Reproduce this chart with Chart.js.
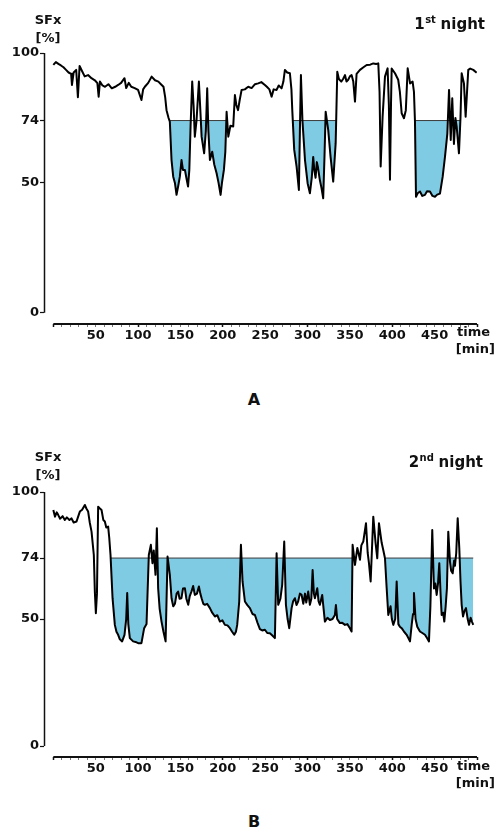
<!DOCTYPE html>
<html><head><meta charset="utf-8">
<script src="https://cdn.jsdelivr.net/npm/chart.js@4.4.0/dist/chart.umd.min.js"></script>
<style>
html,body{margin:0;padding:0;background:#fff;width:500px;height:833px;overflow:hidden;font-family:"DejaVu Sans",sans-serif;}
.wrap{position:absolute;left:0;width:500px;height:370px;}
#wa{top:0px} #wb{top:438px}
.lab{position:absolute;width:500px;text-align:center;font:bold 16px "DejaVu Sans";color:#111;line-height:19px}
</style></head><body>
<div class="wrap" id="wa"><canvas id="ca" width="500" height="370"></canvas></div>
<div class="wrap" id="wb"><canvas id="cb" width="500" height="370"></canvas></div>
<div class="lab" style="top:390px;left:4px">A</div>
<div class="lab" style="top:812px;left:4px">B</div>
<script>
const yTicks = [0, 50, 74, 100];
const xTickLabels = [50, 100, 150, 200, 250, 300, 350, 400, 450];
const threshold = 74;

// 1st night
const timeA = [0,3,6,9,12,15,18,21,22,24,27,29,31,34,37,41,45,49,52,53.5,55,58,61,65,69,73,76.5,80,84,86,89,92,96,100,104,106,108,112,116,120,124,127,130,132,133.6,136,137.5,139.5,141.5,143.5,145.4,147.5,149.3,151.3,153,155.3,157,159,160.5,162,163.9,165.5,167,169,171.8,173.5,175,178,180,181.6,183,184.8,187.5,190,192.7,195,197.4,199,201.3,203,204.5,206.5,209,212.3,214.3,216,218,220,222.2,226,230,234,238,241.8,245.5,249.7,252,255,257.6,260,263.5,266,269.4,271.5,273.3,276,279.2,281,282,284.3,287.1,289.8,291,292.2,294,297,300.1,302.8,305,306.7,308,309.5,311,312.3,314.6,316.5,318.5,320,321.4,324.4,327.2,330.3,333.2,335.1,337,339.8,342,344.2,346,348,350,352,354,356,357.9,361.9,366,369.8,374,377.6,381,383.5,385,386.3,388.6,391.4,394.5,396,397.3,398.5,399.3,403.2,407,409,411.1,413.8,416,418.2,421,424,425.6,426.8,428,430,432.7,435.5,438.6,441,444.5,447.5,450.4,453,456.3,459.5,462.2,465,467,469,470.8,472.8,474.5,476,478.7,480.5,481.9,484.6,486.6,489.7,492,495.6,499.6];
const sfxA = [95.4,96.5,95.8,95.2,94.5,93.5,92.5,92,87.7,92.5,93.5,83,95,93,91,91.5,90.3,89.5,88.4,83.2,89,87.5,87,88,86.4,87,87.7,88.5,90.3,86.5,88.5,87,86.5,85.8,81.9,86,87,88.5,90.9,89.5,89,88,87,83,78,75,73.6,58.8,52.4,50,45.4,49,52.4,58.8,55,55,52,48.6,55,72,89,80,67.8,74,89,78,67.8,61.4,70,86.4,70,58.8,62,57,53.7,50,45.4,50,55,62,77.4,67.8,72,71.7,83.8,80,78,82,85.8,86,87,86.5,88,88.3,88.8,87.7,87,86,83.2,86,85.8,87.5,86.4,89,93.5,92.5,92.2,86,78,62.7,56.3,47.3,70,91.5,74,58.8,49.9,46,52,60,55,52,58,56,51,48,44.1,60,77.4,70.4,60,50.5,65.3,92.8,90,89,90,91.5,89,89.7,91,91.5,89,81.3,92,93.5,94.5,95.4,95.5,96,95.8,96,85,56.3,75.5,90.9,94.1,80,51.2,80,94,92.2,89.7,85,76.8,74.9,78,94.1,88.3,89,85,73.6,44.7,46,46.7,45,45.4,46.8,46.7,45,44.7,45.5,45.9,52.4,60,69,85.8,66.5,82.6,65,75,71.7,61.4,75,92.2,88.3,75.5,93.5,94,93.5,92.4];
const episodesA = [[137.8, 204.5], [282.5, 333.5], [426.5, 480]];

// 2nd night
const timeB = [0,2,4,5.7,8,11,13.6,16,19,21.5,24,27.4,29,31.3,34,37.2,39,41.1,43,45.1,47.8,49,50.2,51.5,52.9,55,56.9,59,60.8,62.5,64.7,66,67.5,69.9,72.6,74.5,76.5,78.5,81.2,84,86,87.2,88.5,90.3,94.2,97,100.1,104,107.2,110,112.7,115.1,117,118.5,120.6,122.2,123.7,125.5,127.7,130,132.5,134.8,137.5,139.5,141.5,143.5,145.5,147.3,149,151.2,153,155.3,157,159.2,161,163,165,167,169.5,171.8,173.5,175,177,178.9,181.5,184.8,187.5,190.7,193.5,196.6,199.5,202.5,205.5,208.4,211,213.5,215.5,217,219.4,221.4,223.3,226.1,229,232,235,237.9,241,243.8,246.5,249.7,252.5,255.6,258.5,261.5,263.5,265.4,268,270.1,272.5,274.5,276.5,278.4,281.2,283,285.1,287,289,291,293,295,297,298.5,300.8,302.8,304.5,306,307.5,308.7,311.5,313,314.6,317.3,320.5,323.5,326.4,329.5,332.3,333.5,335,338.2,341,344.2,347,350,352,353.2,356,358.8,361.9,363.5,365.8,369,371,372.5,374.5,377.6,380.3,382.3,384.3,387.5,389.5,391.4,393.4,395.3,398,399.5,401.2,403.5,405.2,407.2,409,411.1,414,417,419,420.9,423,424.5,425.6,427.5,429.5,432.7,435.5,438.6,441,443.3,445,447.2,449.2,450.8,452.4,454,455.5,457,458.3,460,461.4,463,464.5,466.1,468.1,469.5,471.3,473,474,475.5,477.2,479.1,480.5,481.9,483.5,485,487,489,490.6,492.5,494,495.6];
const sfxB = [92.9,90.3,92,91,89.5,90.5,89,90,89,89.6,88,88.4,90,92.3,93,94.9,93.5,92.3,88,84.4,75.2,60.8,52.3,60,94.2,93.5,92.9,89,88.4,86,86.4,82,75.2,58.2,47.7,45,43.8,42,41.2,43.8,50,60.2,48,42.5,41.2,41,40.5,40.5,46.4,48,75.2,79.2,72,77,67.4,85.7,62.1,54,49,45,41.2,74.6,67.4,58.2,55,56,60,60.8,58,58.2,62,62.1,58,55.6,59,60.8,63,59.5,60,62.8,60,58.2,56,55.6,56,54.3,52.5,51,51.5,49,49.5,47.7,47.5,46.4,45,43.8,45,47.7,56.9,79.2,64.8,56.9,55.5,54.3,52,51.6,48.5,46,45.5,45.8,44.5,44.4,43.5,42.5,75.9,55.6,58,63.4,80.5,55.6,50,46.4,54.3,57,58.2,55.5,57,60,59.5,56,60,56.5,60.8,55.6,58,69.3,60,58.2,62.1,57,55.6,59.5,49,50.5,49.6,50,51.6,55.5,50,48.4,48.5,47.7,48,46.4,45.1,79.2,71.3,78,73.3,79,80.5,87.7,76,72,64.8,90.3,80,73.9,87.7,80,77,73.9,62.1,51.6,55,50,47.7,50,64.8,48,47,46.4,45,43.8,42.5,41.2,48,52,60.2,50,47,45.1,44.5,43.8,42.5,41.2,55,85,62,64,59.5,64,72,60,51.6,52.5,49,55,62,84.4,72.6,69,68,73,71,76,89.7,77.9,65,55.6,51,53,54.3,50,47.7,50.5,49,47.7];
const episodesB = [[67.8, 352.5], [392.6, 495.6]];

const INK = '#111';
const FONT = '"DejaVu Sans", Verdana, sans-serif';

const deco = {
  id: 'deco',
  afterDraw(chart, args, o) {
    const {ctx, chartArea: a, scales: {x, y}} = chart;
    ctx.save();
    ctx.strokeStyle = INK;
    // y axis line (0..100)
    ctx.lineWidth = 1.5;
    ctx.beginPath();
    ctx.moveTo(a.left + 0.5, y.getPixelForValue(100));
    ctx.lineTo(a.left + 0.5, y.getPixelForValue(0));
    ctx.stroke();
    // x axis line (0..500)
    ctx.lineWidth = 2;
    ctx.beginPath();
    ctx.moveTo(x.getPixelForValue(0), a.bottom);
    ctx.lineTo(x.getPixelForValue(500), a.bottom);
    ctx.stroke();
    ctx.fillStyle = INK;
    ctx.font = 'bold 13px ' + FONT;
    ctx.textBaseline = 'middle';
    ctx.textAlign = 'center';
    ctx.fillText('SFx', a.left + 4, a.top + o.sfxDy);
    ctx.fillText('[%]', a.left + 4, a.top + o.sfxDy + 18);
    ctx.textAlign = 'right';
    ctx.fillText('time', 490, a.bottom + o.timeDy);
    ctx.fillText('[min]', 495, a.bottom + o.timeDy + 17);
    // title with superscript
    const big = 'bold 15px ' + FONT, small = 'bold 10px ' + FONT;
    ctx.font = big; const w1 = ctx.measureText(o.num).width;
    const w3 = ctx.measureText(' night').width;
    ctx.font = small; const w2 = ctx.measureText(o.sup).width;
    let xs = o.titleRight - (w1 + w2 + w3);
    const ty = a.top + o.titleDy;
    ctx.textAlign = 'left';
    ctx.font = big; ctx.fillText(o.num, xs, ty);
    ctx.font = small; ctx.fillText(o.sup, xs + w1 + 0.5, ty - 5);
    ctx.font = big; ctx.fillText(' night', xs + w1 + w2, ty);
    ctx.restore();
  }
};

function makeChart(id, times, vals, episodes, padTop, padBottom, deco_o) {
  const sig = times.map((t, i) => ({x: t, y: vals[i]}));
  const thr = [];
  episodes.forEach(([s, e], k) => {
    if (k > 0) thr.push({x: s - 0.05, y: null});
    thr.push({x: s, y: threshold}, {x: e, y: threshold});
  });
  return new Chart(document.getElementById(id), {
    type: 'line',
    data: {
      datasets: [
        {data: sig, borderColor: '#000', borderWidth: 2, pointRadius: 0, tension: 0, fill: false, borderJoinStyle: 'round'},
        {data: thr, borderColor: '#3a3a3a', borderWidth: 1, pointRadius: 0, spanGaps: false,
         fill: {target: 0, above: '#80cbe4', below: 'rgba(0,0,0,0)'}}
      ]
    },
    options: {
      responsive: false, animation: false, events: [],
      layout: {padding: {top: padTop, bottom: padBottom, left: 0, right: 23}},
      plugins: {legend: {display: false}, tooltip: {enabled: false}, title: {display: false}, deco: deco_o},
      scales: {
        x: {
          type: 'linear', min: -11, max: 500,
          afterFit: s => { s.height = 40; },
          afterBuildTicks: s => { const t = []; for (let v = 0; v <= 500; v += 10) t.push({value: v}); s.ticks = t; },
          ticks: {autoSkip: false, maxRotation: 0, padding: 1, color: INK, font: {family: FONT, size: 13, weight: 'bold'},
                  callback: v => xTickLabels.includes(v) ? String(v) : ''},
          grid: {display: true, drawOnChartArea: false, drawTicks: true, tickLength: 3,
                 tickColor: c => (c.tick && c.tick.value % 100 === 0) ? INK : '#777',
                 tickWidth: c => (c.tick && c.tick.value % 100 === 0) ? 1.5 : 1},
          border: {display: false}
        },
        y: {
          type: 'linear', min: -4.3, max: 100,
          afterFit: s => { s.width = 44; },
          afterBuildTicks: s => { s.ticks = yTicks.map(v => ({value: v})); },
          ticks: {padding: 1, color: INK, font: {family: FONT, size: 13, weight: 'bold'}},
          grid: {display: true, drawOnChartArea: false, drawTicks: true, tickLength: 4, tickColor: INK, tickWidth: 1.2},
          border: {display: false}
        }
      }
    },
    plugins: [deco]
  });
}

makeChart('ca', timeA, sfxA, episodesA, 53, 6, {sfxDy: -32, timeDy: 9, titleDy: -28, titleRight: 485, num: '1', sup: 'st'});
makeChart('cb', timeB, sfxB, episodesB, 54, 11, {sfxDy: -34, timeDy: 10, titleDy: -29, titleRight: 483, num: '2', sup: 'nd'});
</script>
</body></html>
